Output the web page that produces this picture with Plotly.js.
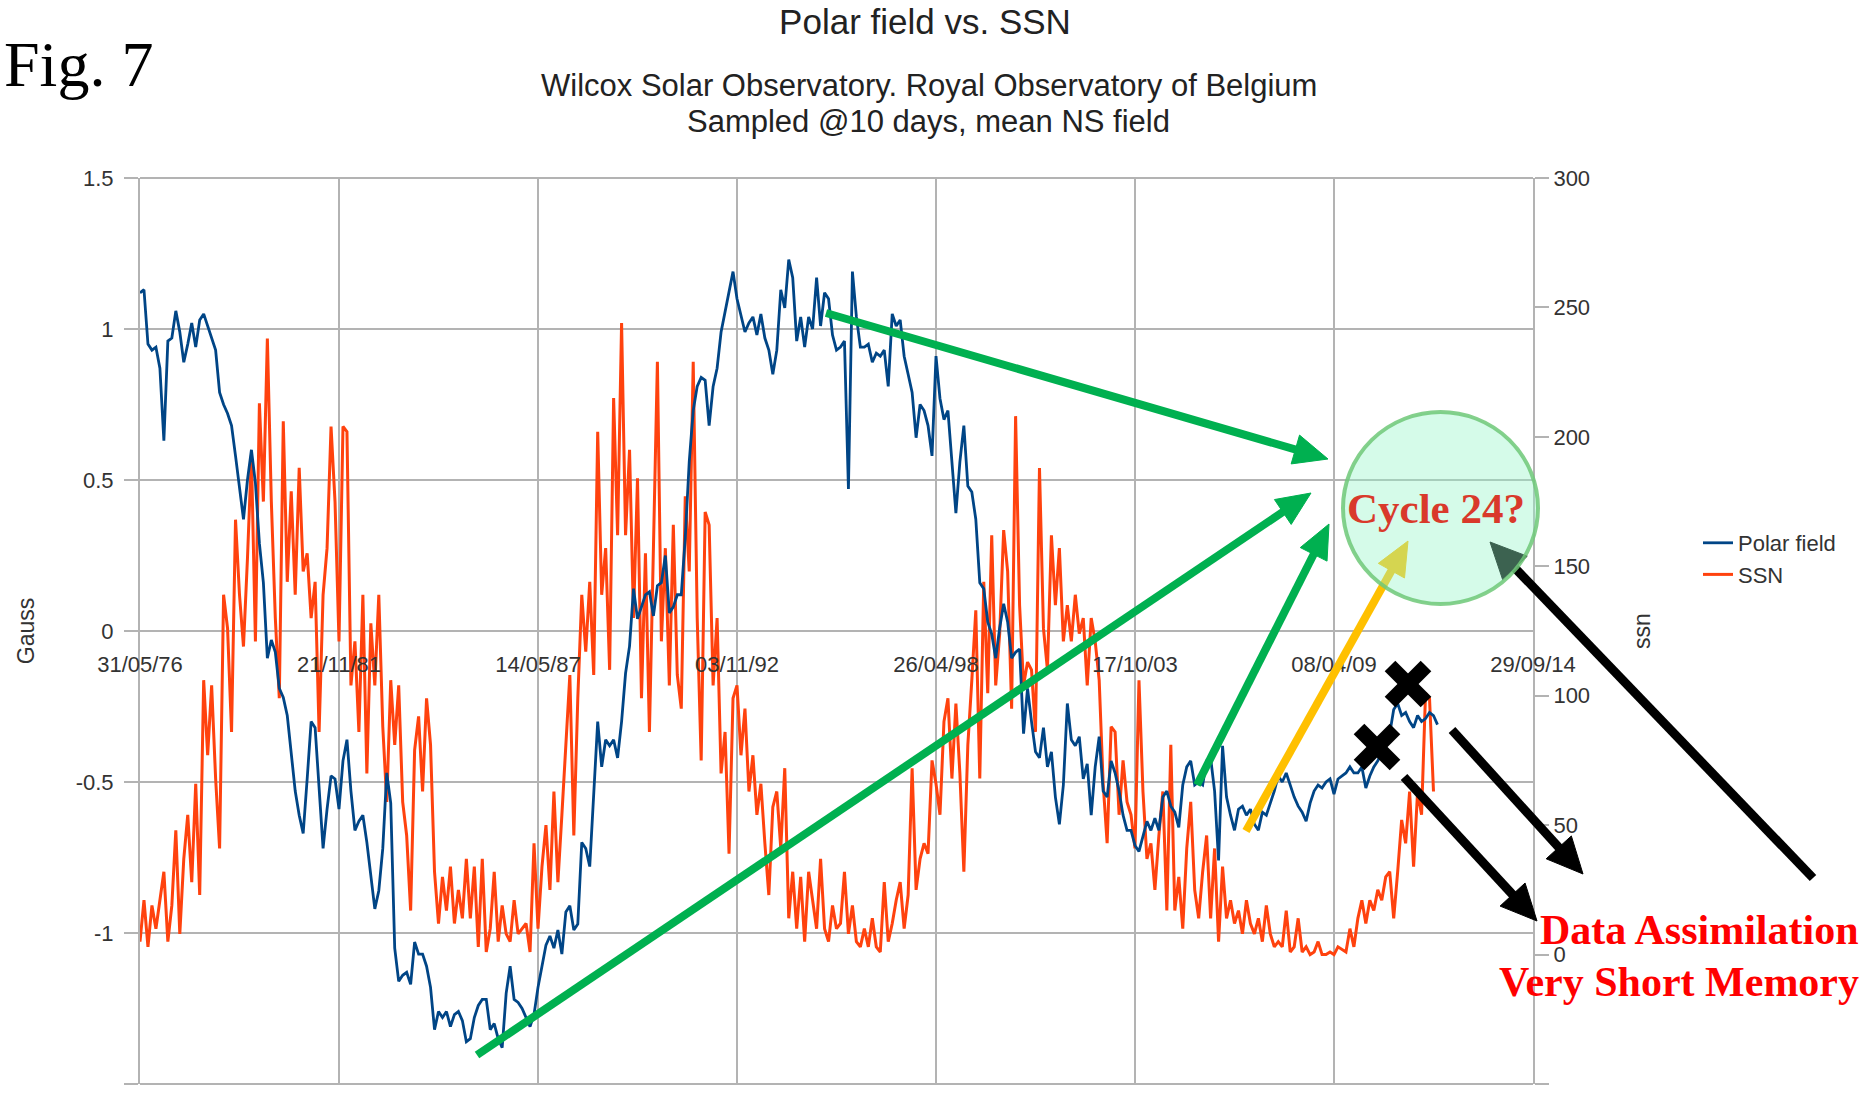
<!DOCTYPE html>
<html><head><meta charset="utf-8">
<script src="https://cdn.plot.ly/plotly-3.0.1.min.js"></script>
<style>html,body{margin:0;padding:0;background:#fff;overflow:hidden;} #chart{width:1868px;height:1096px;}</style>
</head><body><div id="chart"></div>
<script>
// ---- data (resampled every 40 days) ----
const startDate = '1976-05-31';
const stepDays = 40;

const polarField = [
 1.12,1.13,0.95,0.93,0.94,0.87,0.63,0.96,0.97,1.06,
 0.99,0.89,0.95,1.02,0.94,1.03,1.05,1.01,0.97,0.93,
 0.79,0.75,0.72,0.68,0.58,0.48,0.37,0.50,0.60,0.49,
 0.29,0.16,-0.09,-0.03,-0.07,-0.19,-0.22,-0.28,-0.40,-0.53,
 -0.61,-0.67,-0.49,-0.30,-0.32,-0.51,-0.72,-0.59,-0.48,-0.49,
 -0.59,-0.43,-0.36,-0.53,-0.66,-0.63,-0.61,-0.70,-0.82,-0.92,
 -0.86,-0.72,-0.47,-0.57,-1.05,-1.16,-1.14,-1.13,-1.17,-1.03,
 -1.07,-1.07,-1.11,-1.18,-1.32,-1.26,-1.28,-1.26,-1.31,-1.27,
 -1.26,-1.29,-1.36,-1.35,-1.28,-1.24,-1.22,-1.22,
 -1.32,-1.30,-1.35,-1.38,-1.20,-1.11,-1.22,-1.23,-1.25,-1.28,-1.31,-1.27,
 -1.18,-1.11,-1.04,-1.01,-1.05,-0.99,-1.07,-0.93,-0.91,-0.99,
 -0.97,-0.70,-0.72,-0.78,-0.53,-0.30,-0.45,-0.36,-0.38,-0.36,
 -0.42,-0.30,-0.14,-0.05,0.14,0.04,0.08,0.12,0.13,0.05,
 0.15,0.16,0.25,0.06,0.08,0.12,0.12,0.31,0.56,0.73,
 0.81,0.84,0.83,0.68,0.81,0.87,0.99,1.06,1.12,1.19,
 1.10,1.04,0.99,1.02,1.04,0.98,1.05,0.97,0.93,0.85,
 0.93,1.13,1.07,1.23,1.17,0.96,1.04,0.94,1.04,1.00,
 1.17,1.01,1.12,1.10,0.98,0.93,
 0.94,0.96,0.47,1.19,1.04,0.94,0.94,0.95,0.89,0.92,
 0.91,0.93,0.81,1.05,1.01,1.03,0.91,0.85,0.79,0.64,
 0.75,0.73,0.68,0.58,0.91,0.77,0.70,0.73,0.56,0.39,
 0.56,0.68,0.48,0.46,0.37,0.16,0.14,0.03,-0.01,-0.09,
 0.01,0.09,0.03,-0.09,-0.07,-0.06,-0.34,-0.19,-0.30,-0.40,
 -0.42,-0.32,-0.45,-0.40,-0.55,-0.64,-0.51,-0.24,-0.36,-0.38,
 -0.35,-0.49,-0.44,-0.61,-0.45,-0.35,-0.53,-0.55,-0.43,-0.47,
 -0.53,-0.61,-0.66,-0.66,-0.71,-0.73,-0.68,-0.63,-0.66,-0.62,
 -0.66,-0.55,-0.53,-0.58,-0.60,-0.65,-0.51,-0.45,
 -0.43,-0.51,-0.50,-0.51,-0.43,-0.42,-0.53,-0.76,-0.38,-0.55,
 -0.61,-0.66,-0.59,-0.58,-0.61,-0.59,-0.64,-0.66,-0.60,-0.61,
 -0.57,-0.53,-0.48,-0.50,-0.47,-0.51,-0.55,-0.58,-0.60,-0.63,
 -0.57,-0.53,-0.51,-0.52,-0.50,-0.49,-0.54,-0.49,-0.48,-0.47,
 -0.45,-0.47,-0.47,-0.45,-0.52,-0.48,-0.45,-0.43,-0.40,-0.37,
 -0.34,-0.26,-0.24,-0.28,-0.27,-0.30,-0.32,-0.28,-0.30,-0.29,
 -0.27,-0.28,-0.31
];

const ssn = [
 5,21,3,19,10,21,32,5,19,48,
 8,37,54,28,66,23,106,77,104,68,
 41,139,126,86,168,139,119,153,193,121,
 213,175,238,175,130,99,206,144,179,139,
 188,148,155,130,144,86,139,157,204,175,
 121,204,202,104,121,86,139,70,128,104,
 139,88,59,106,81,104,59,46,17,79,
 92,63,99,81,32,12,30,17,34,12,
 25,14,37,14,34,3,37,1,
 10,32,5,19,8,5,21,8,10,12,1,43,
 10,34,50,25,63,28,54,81,108,46,
 99,139,117,144,108,202,139,157,110,215,
 162,244,162,195,130,184,99,155,86,157,
 229,121,157,104,166,108,95,177,148,229,
 130,75,171,166,104,130,70,86,39,99,
 104,77,95,63,77,54,66,43,23,57,
 63,41,72,14,32,10,30,5,32,21,
 10,37,10,5,19,10,
 12,32,8,19,5,3,10,3,14,3,
 1,28,5,12,21,28,10,23,72,25,
 37,43,39,75,66,54,90,99,68,97,
 70,32,81,106,133,68,144,101,162,104,
 124,164,148,95,208,135,104,113,110,86,
 188,126,110,162,135,157,121,135,121,139,
 124,130,104,130,121,106,66,43,88,86,
 54,75,59,54,41,106,63,37,43,25,
 46,63,17,81,17,30,10,41,
 59,25,14,32,46,14,41,5,34,14,
 21,12,17,8,21,12,8,14,5,19,
 8,3,5,3,17,1,3,14,1,3,
 0,1,5,0,0,1,0,3,2,1,
 10,3,14,21,12,21,17,25,21,30,
 32,14,32,52,43,63,34,63,54,101,
 99,63
];

const dateTicks = ['1976-05-31','1981-11-21','1987-05-14','1992-11-03','1998-04-26','2003-10-17','2009-04-08','2014-09-29'];
const dateTickLabels = ['31/05/76','21/11/81','14/05/87','03/11/92','26/04/98','17/10/03','08/04/09','29/09/14'];
const gaussTicks = [-1.5,-1,-0.5,0,0.5,1,1.5];
const ssnTicks = [-50,0,50,100,150,200,250,300];

// ---- helpers ----
function sampleDates(n){
  const t0 = Date.parse(startDate + 'T00:00:00Z');
  return Array.from({length:n}, (_, i) => new Date(t0 + i*stepDays*86400000).toISOString().slice(0,10));
}
const W = 1868, H = 1096, ML = 140, MR = 335, MT = 178, MB = 12;
const PW = W - ML - MR, PH = H - MT - MB;
const px = X => (X - ML) / PW;
const py = Y => (H - MB - Y) / PH;

function arrow(x0,y0,x1,y1,w,color,hl,hw){
  const dx = x1-x0, dy = y1-y0, len = Math.hypot(dx,dy), ux = dx/len, uy = dy/len;
  const bx = x1-ux*hl, by = y1-uy*hl, nx = -uy, ny = ux;
  const lx = x1-ux*hl*0.8, ly = y1-uy*hl*0.8;
  return [
    {type:'line', xref:'paper', yref:'paper', x0:px(x0), y0:py(y0), x1:px(lx), y1:py(ly), line:{color:color, width:w}},
    {type:'path', xref:'paper', yref:'paper',
     path:'M'+px(x1)+','+py(y1)+' L'+px(bx+nx*hw)+','+py(by+ny*hw)+' L'+px(bx-nx*hw)+','+py(by-ny*hw)+' Z',
     fillcolor:color, line:{color:color, width:1}}
  ];
}
function cross(cx,cy,s,w){
  return [
    {type:'line', xref:'paper', yref:'paper', x0:px(cx-s), y0:py(cy-s), x1:px(cx+s), y1:py(cy+s), line:{color:'#000', width:w}},
    {type:'line', xref:'paper', yref:'paper', x0:px(cx-s), y0:py(cy+s), x1:px(cx+s), y1:py(cy-s), line:{color:'#000', width:w}}
  ];
}

const GREEN = '#00b050', YELLOW = '#ffc000', BLACK = '#000000';
const GRID = '#b3b3b3';
const sans = 'Liberation Sans, Arial, sans-serif';
const serif = 'Liberation Serif, Times New Roman, serif';

const traces = [
  {x: sampleDates(ssn.length), y: ssn, type:'scatter', mode:'lines', name:'SSN',
   line:{color:'#ff420e', width:3}, xaxis:'x', yaxis:'y', hoverinfo:'skip'},
  {x: sampleDates(polarField.length), y: polarField, type:'scatter', mode:'lines', name:'Polar field',
   line:{color:'#004586', width:2.8}, xaxis:'x', yaxis:'y2', hoverinfo:'skip'}
];

const shapes = [].concat(
  [{type:'line', xref:'paper', yref:'paper', x0:0, x1:1, y0:1, y1:1, layer:'above', line:{color:GRID, width:2}},
   {type:'line', xref:'paper', yref:'paper', x0:0, x1:1, y0:0, y1:0, layer:'above', line:{color:GRID, width:2}}],
  arrow(826,313,1328,459,8,GREEN,34,15),
  arrow(477,1055,1311,493,8,GREEN,34,15),
  arrow(1197,785,1329,524,8,GREEN,34,15),
  arrow(1246,831,1408,541,8,YELLOW,34,15),
  arrow(1813,878,1490,542,9,BLACK,36,17),
  arrow(1452,730,1583,874,9,BLACK,36,17),
  arrow(1404,777,1537,921,9,BLACK,36,17),
  [{type:'circle', xref:'paper', yref:'paper', x0:px(1343), x1:px(1538), y0:py(604), y1:py(412),
    fillcolor:'rgba(150,245,200,0.4)', line:{color:'rgba(110,200,120,0.85)', width:4}}],
  cross(1408,684,18,15),
  cross(1377,747,18,15)
);

const annotations = [
  {xref:'paper', yref:'paper', x:px(2), y:py(64), xanchor:'left', yanchor:'middle', showarrow:false,
   text:'Fig. 7', font:{family:serif, size:64, color:'#000'}},
  {xref:'paper', yref:'paper', x:px(928.5), y:py(85), xanchor:'center', yanchor:'middle', showarrow:false,
   text:'Wilcox Solar Observatory. Royal Observatory of Belgium', font:{family:sans, size:31, color:'#222'}},
  {xref:'paper', yref:'paper', x:px(928.5), y:py(121), xanchor:'center', yanchor:'middle', showarrow:false,
   text:'Sampled @10 days, mean NS field', font:{family:sans, size:31, color:'#222'}},
  {xref:'paper', yref:'paper', x:px(1436), y:py(508), xanchor:'center', yanchor:'middle', showarrow:false,
   text:'<b>Cycle 24?</b>', font:{family:serif, size:43, color:'#d9392b'}},
  {xref:'paper', yref:'paper', x:px(1861), y:py(930), xanchor:'right', yanchor:'middle', showarrow:false,
   text:'<b>Data Assimilation</b>', font:{family:serif, size:42, color:'#ff0000'}},
  {xref:'paper', yref:'paper', x:px(1861), y:py(982), xanchor:'right', yanchor:'middle', showarrow:false,
   text:'<b>Very Short Memory</b>', font:{family:serif, size:42, color:'#ff0000'}}
];

const tickFont = {family:sans, size:22, color:'#333'};

const layout = {
  width: W, height: H,
  margin: {l:ML, r:MR, t:MT, b:MB, pad:0},
  paper_bgcolor:'#ffffff', plot_bgcolor:'#ffffff',
  showlegend: true,
  title: {text:'Polar field vs. SSN', x:925/W, xref:'container', xanchor:'center',
          y:1-22/H, yref:'container', yanchor:'middle', font:{family:sans, size:35, color:'#222'}},
  xaxis: {type:'date', range:[dateTicks[0], dateTicks[dateTicks.length-1]],
          tickmode:'array', tickvals:dateTicks, ticktext:dateTickLabels,
          anchor:'free', position:0.5, showgrid:true, gridcolor:GRID, gridwidth:2,
          showline:false, zeroline:false, ticks:'', tickfont:tickFont, ticklabelstandoff:18},
  yaxis: {range:[-50,300], tickmode:'array', tickvals:ssnTicks, ticktext:ssnTicks.map(String),
          side:'right', anchor:'x', showgrid:false, zeroline:false,
          showline:true, linecolor:GRID, linewidth:2, ticks:'outside', ticklen:14, tickcolor:GRID, tickwidth:2,
          tickfont:tickFont, title:{text:'ssn', font:{family:sans, size:23, color:'#333'}, standoff:45}},
  yaxis2: {range:[-1.5,1.5], tickmode:'array', tickvals:gaussTicks, ticktext:gaussTicks.map(String),
          overlaying:'y', side:'left', anchor:'x', showgrid:true, gridcolor:GRID, gridwidth:2, zeroline:false,
          showline:true, linecolor:GRID, linewidth:2, ticks:'outside', ticklen:14, tickcolor:GRID, tickwidth:2,
          tickfont:tickFont, ticklabelstandoff:6,
          title:{text:'Gauss', font:{family:sans, size:23, color:'#333'}, standoff:35}},
  legend: {x:px(1698), y:py(522), xanchor:'left', yanchor:'top', bgcolor:'rgba(0,0,0,0)',
           font:{family:sans, size:22, color:'#333'}, traceorder:'reversed'},
  shapes: shapes,
  annotations: annotations
};

Plotly.newPlot('chart', traces, layout, {displayModeBar:false, staticPlot:true});
</script>
</body></html>
